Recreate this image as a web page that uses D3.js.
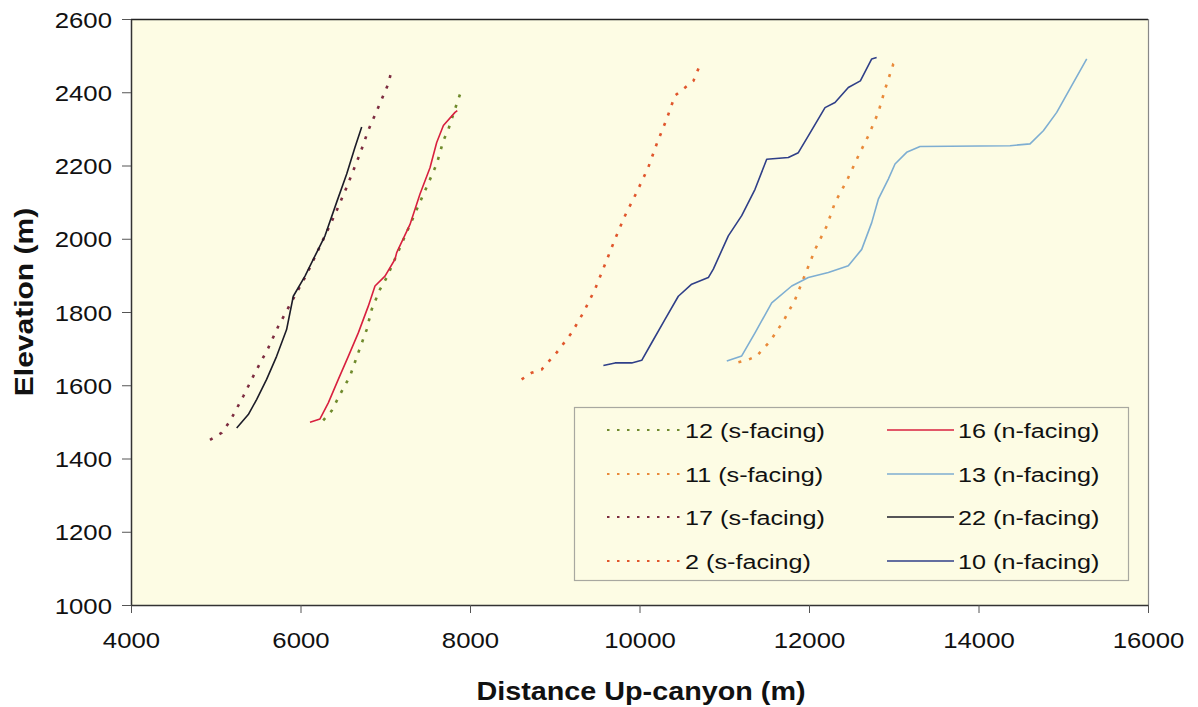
<!DOCTYPE html>
<html><head><meta charset="utf-8">
<script src="https://cdn.jsdelivr.net/npm/d3@7"></script>
<style>
html,body{margin:0;padding:0;background:#fff;}
svg{display:block;font-family:"Liberation Sans",Arial,sans-serif;}
</style></head>
<body>
<svg id="c" width="1198" height="707"></svg>
<script>
// ---- data (distance up-canyon m, elevation m) ----
const xTicks = [4000, 6000, 8000, 10000, 12000, 14000, 16000];
const yTicks = [1000, 1200, 1400, 1600, 1800, 2000, 2200, 2400, 2600];

const s12 = [[6268,1504],[6367,1530],[6446,1566],[6584,1625],[6682,1689],[6781,1752],[6840,1807],[6938,1862],[7017,1894],[7252,2017],[7488,2141],[7607,2204],[7686,2268],[7745,2299],[7843,2368],[7890,2400]];
const s11 = [[11167,1663],[11285,1670],[11383,1680],[11541,1720],[11698,1775],[11836,1834],[11954,1902],[12072,1971],[12210,2035],[12307,2099],[12445,2158],[12582,2226],[12700,2281],[12818,2345],[12897,2408],[12995,2477],[13038,2486]];
const s17 = [[4932,1451],[5070,1470],[5168,1502],[5325,1570],[5463,1634],[5620,1702],[5738,1761],[5876,1820],[6073,1903],[6289,2008],[6427,2077],[6545,2141],[6702,2232],[6800,2296],[6918,2359],[7036,2423],[7076,2461]];
const s2  = [[8609,1616],[8727,1634],[8845,1643],[9022,1689],[9199,1743],[9337,1798],[9475,1862],[9593,1930],[9711,1999],[9829,2063],[9967,2127],[10104,2195],[10203,2259],[10321,2327],[10419,2391],[10517,2409],[10636,2431],[10702,2468]];
const s16 = [[6112,1499],[6230,1508],[6328,1552],[6446,1616],[6564,1679],[6682,1743],[6800,1816],[6879,1871],[6997,1898],[7115,1944],[7135,1962],[7292,2039],[7410,2122],[7528,2194],[7607,2263],[7686,2309],[7823,2345],[7850,2350]];
const s13 = [[11030,1666],[11206,1680],[11363,1743],[11560,1825],[11796,1871],[11992,1894],[12228,1908],[12464,1926],[12622,1971],[12740,2044],[12818,2108],[12936,2163],[13015,2204],[13152,2236],[13310,2252],[14372,2254],[14608,2259],[14765,2295],[14923,2345],[15080,2410],[15277,2491]];
const s22 = [[5247,1483],[5384,1520],[5482,1561],[5600,1616],[5718,1679],[5836,1752],[5915,1843],[6053,1898],[6171,1953],[6289,2008],[6427,2100],[6545,2177],[6643,2250],[6722,2305]];
const s10 = [[9574,1654],[9712,1661],[9908,1661],[10026,1668],[10144,1716],[10301,1780],[10458,1843],[10616,1876],[10812,1894],[10871,1917],[11048,2008],[11206,2063],[11363,2135],[11501,2217],[11756,2222],[11874,2235],[11992,2281],[12189,2358],[12307,2372],[12464,2413],[12606,2431],[12740,2491],[12798,2495]];

const seriesNames = ["12 (s-facing)","11 (s-facing)","17 (s-facing)","2 (s-facing)","16 (n-facing)","13 (n-facing)","22 (n-facing)","10 (n-facing)"];
const seriesData  = [s12, s11, s17, s2, s16, s13, s22, s10];
const seriesColor = ["#6f8a2c","#e98a3a","#7d2c40","#e0562c","#d8203f","#7eaed2","#1c1c28","#2f3f88"];
const seriesDotted = [true,true,true,true,false,false,false,false];

// ---- layout ----
const svg = d3.select("#c");
const L = 131, R = 1148, T = 19, B = 605;
const x = d3.scaleLinear().domain([4000,16000]).range([L,R]);
const y = d3.scaleLinear().domain([1000,2600]).range([B,T]);

svg.append("rect").attr("x",L).attr("y",T).attr("width",R-L).attr("height",B-T).attr("fill","#fdfce4");

// frame top & right
svg.append("line").attr("x1",L).attr("x2",R).attr("y1",T+0.5).attr("y2",T+0.5).attr("stroke","#222").attr("stroke-width",1.5);
svg.append("line").attr("x1",R+0.5).attr("x2",R+0.5).attr("y1",T).attr("y2",B).attr("stroke","#888").attr("stroke-width",1.2);

// axes
const xAxis = svg.append("g").attr("transform",`translate(0,${B})`)
  .call(d3.axisBottom(x).tickValues(xTicks).tickFormat(d3.format("d")).tickSize(8).tickSizeOuter(0));
const yAxis = svg.append("g").attr("transform",`translate(${L},0)`)
  .call(d3.axisLeft(y).tickValues(yTicks).tickFormat(d3.format("d")).tickSize(9).tickSizeOuter(0));
[xAxis,yAxis].forEach(g=>{
  g.select(".domain").attr("stroke","#333").attr("stroke-width",1.5);
  g.selectAll(".tick line").attr("stroke","#555").attr("stroke-width",1);
  g.selectAll("text").attr("font-size",23).attr("fill","#111").attr("font-family","Liberation Sans, Arial, sans-serif");
});
xAxis.selectAll("text").attr("y",null).attr("dy",null).attr("transform","translate(0,43) scale(1.12,1)");
yAxis.selectAll("text").attr("x",null).attr("dy",null).attr("transform","translate(-19,8) scale(1.12,1)");

// axis titles
svg.append("text").attr("transform","translate(641,700) scale(1.15,1)")
  .attr("text-anchor","middle").attr("font-weight","bold").attr("font-size",25).attr("fill","#111")
  .text("Distance Up-canyon (m)");
svg.append("text").attr("transform","translate(33,302) rotate(-90) scale(1.2,1)")
  .attr("text-anchor","middle").attr("font-weight","bold").attr("font-size",25).attr("fill","#111")
  .text("Elevation (m)");

// series
const line = d3.line().x(d=>x(d[0])).y(d=>y(d[1]));
seriesData.forEach((d,i)=>{
  const p = svg.append("path").datum(d).attr("d",line).attr("fill","none")
    .attr("stroke",seriesColor[i]);
  if(seriesDotted[i]) p.attr("stroke-width",2.6).attr("stroke-dasharray","3,8");
  else p.attr("stroke-width",1.6).attr("stroke-linejoin","round");
});

// legend
const lg = svg.append("g");
lg.append("rect").attr("x",574.5).attr("y",407.5).attr("width",554).attr("height",173)
  .attr("fill","#fdfce4").attr("stroke","#a8a8a0").attr("stroke-width",1.2);
const rowY = [430,474,517,561];
seriesNames.forEach((n,i)=>{
  const col = Math.floor(i/4), r = i%4;
  const x0 = col===0 ? 607 : 887, x1 = col===0 ? 681 : 954;
  const ly = rowY[r];
  const l = lg.append("line").attr("x1",x0).attr("x2",x1).attr("y1",ly).attr("y2",ly).attr("stroke",seriesColor[i]);
  if(seriesDotted[i]) l.attr("stroke-width",2.2).attr("stroke-dasharray","2.5,7.5");
  else l.attr("stroke-width",1.6);
  lg.append("text").attr("transform",`translate(${x1+4},${ly+7.5}) scale(1.2,1)`)
    .attr("font-size",21).attr("fill","#111").text(n);
});
</script>
</body></html>
